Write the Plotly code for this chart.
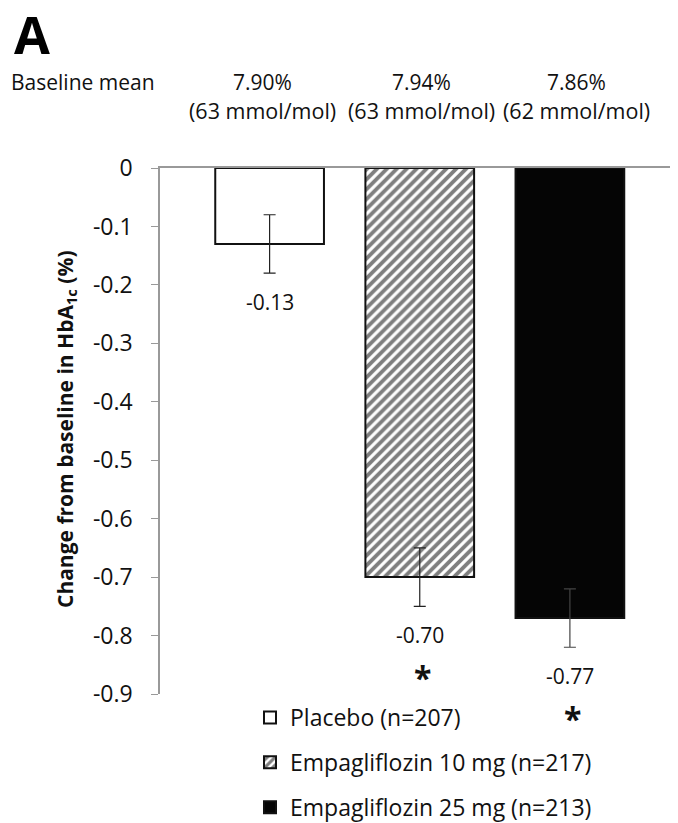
import plotly.graph_objects as go

# ---- data ----
groups = ["Placebo (n=207)", "Empagliflozin 10 mg (n=217)", "Empagliflozin 25 mg (n=213)"]
changes = [-0.13, -0.70, -0.77]
errors = [0.05, 0.05, 0.05]
significant = [False, True, True]
baseline_pct = ["7.90%", "7.94%", "7.86%"]
baseline_mmol = ["(63 mmol/mol)", "(63 mmol/mol)", "(62 mmol/mol)"]
ytick_vals = [0, -0.1, -0.2, -0.3, -0.4, -0.5, -0.6, -0.7, -0.8, -0.9]
ytick_text = ["0", "-0.1", "-0.2", "-0.3", "-0.4", "-0.5", "-0.6", "-0.7", "-0.8", "-0.9"]

FONT = "Open Sans"
fills = ["white", "white", "#050505"]
patterns = ["", "/", ""]
errcolors = ["#222", "#222", "#444"]

fig = go.Figure()
for i, g in enumerate(groups):
    fig.add_trace(go.Bar(
        x=[i], y=[changes[i]], name=g, width=0.724,
        legendgroup=f"g{i}",
        marker=dict(color=fills[i], line=dict(color="#111", width=2),
                    pattern=dict(shape=patterns[i], fgcolor="#000", bgcolor="white",
                                 size=7, solidity=0.55)),
        error_y=dict(type="data", array=[errors[i]], symmetric=True,
                     color=errcolors[i], thickness=1.2, width=6),
    ))

annotations = []
for i, v in enumerate(changes):
    annotations.append(dict(x=i, y=v - errors[i], xref="x", yref="y", text=f"{v:.2f}",
                            showarrow=False, yanchor="middle", yshift=-29,
                            font=dict(family=FONT, size=21, color="#111")))
    if significant[i]:
        annotations.append(dict(x=i, y=v - errors[i], xref="x", yref="y", text="<b>*</b>",
                                showarrow=False, yanchor="middle", yshift=-71, xshift=3,
                                font=dict(family=FONT, size=32, color="#111")))

# header texts (positions in page pixels, converted to paper fractions)
W = 518.0
H = 526.0
def px(xp):
    return (xp - 160) / W
def py(yp):
    return (694 - yp) / H

annotations.append(dict(x=px(9), y=py(82), xref="paper", yref="paper", text="Baseline mean",
                        showarrow=False, xanchor="left", yanchor="middle",
                        font=dict(family=FONT, size=21, color="#111")))
for cx, p, m in zip([262, 421, 576], baseline_pct, baseline_mmol):
    annotations.append(dict(x=px(cx), y=py(82), xref="paper", yref="paper", text=p,
                            showarrow=False, xanchor="center", yanchor="middle",
                            font=dict(family=FONT, size=21, color="#111")))
    annotations.append(dict(x=px(cx), y=py(110), xref="paper", yref="paper", text=m,
                            showarrow=False, xanchor="center", yanchor="middle",
                            font=dict(family=FONT, size=21.5, color="#111")))
annotations.append(dict(x=px(12), y=py(33), xref="paper", yref="paper", text="<b>A</b>",
                        showarrow=False, xanchor="left", yanchor="middle",
                        font=dict(family=FONT, size=52, color="#000")))
annotations.append(dict(x=px(66), y=py(429), xref="paper", yref="paper",
                        text="<b>Change from baseline in HbA<sub>1c</sub> (%)</b>",
                        showarrow=False, textangle=-90, xanchor="center", yanchor="middle",
                        font=dict(family=FONT, size=21, color="#111")))

fig.update_layout(
    width=670, height=815,
    margin=dict(l=152, r=0, t=160, b=129, autoexpand=False),
    paper_bgcolor="white", plot_bgcolor="white",
    barmode="overlay",
    showlegend=True,
    legend=dict(x=px(250), y=py(696), xanchor="left", yanchor="top",
                font=dict(family=FONT, size=23, color="#111"),
                tracegroupgap=12, itemsizing="constant", bgcolor="rgba(0,0,0,0)"),
    annotations=annotations,
    xaxis=dict(range=[-0.73, 2.72], side="top", showline=True, linecolor="#999",
               linewidth=1.5, showticklabels=False, ticks="", showgrid=False, zeroline=False,
               fixedrange=True),
    yaxis=dict(range=[-0.9, 0], tickvals=ytick_vals, ticktext=ytick_text,
               showline=True, linecolor="#999", linewidth=1.5, ticks="outside",
               ticklen=7, tickcolor="#999", tickwidth=1, ticklabelstandoff=14,
               showgrid=False, zeroline=False,
               tickfont=dict(family=FONT, size=23, color="#111")),
)

fig.write_html("out.html")
